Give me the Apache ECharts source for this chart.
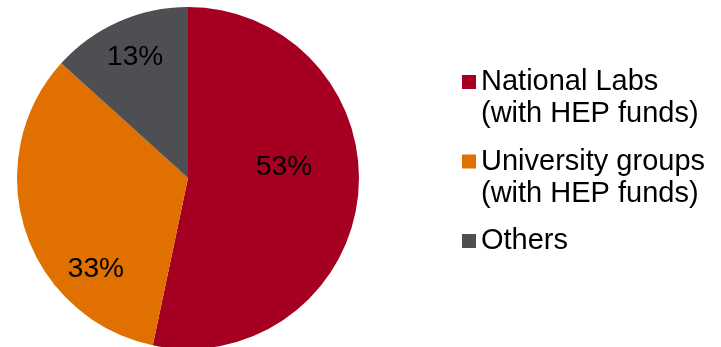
<!DOCTYPE html>
<html>
<head>
<meta charset="utf-8">
<script src="https://cdn.jsdelivr.net/npm/echarts@6/dist/echarts.min.js"></script>
<style>
html,body{margin:0;padding:0;background:#fff;}
#chart{width:721px;height:347px;}
</style>
</head>
<body>
<div id="chart"></div>
<script>
// Data
var categories = ['National Labs (with HEP funds)', 'University groups (with HEP funds)', 'Others'];
var legendLines = [['National Labs', '(with HEP funds)'], ['University groups', '(with HEP funds)'], ['Others']];
var shares = [53.3, 33.4, 13.3];
var colors = ['#A50021', '#E07000', '#4D4F53'];

var labelShift = [[8, -20], [-8, 64], [-17, -40]];

var chart = echarts.init(document.getElementById('chart'), null, {renderer: 'canvas'});

var pieData = categories.map(function (c, i) {
  return {name: c, value: shares[i], itemStyle: {color: colors[i]}};
});

var option = {
  animation: false,
  backgroundColor: '#ffffff',
  legend: {
    orient: 'vertical',
    left: 462,
    top: 34,
    padding: 0,
    itemWidth: 14,
    itemHeight: 14,
    itemGap: -16.5,
    icon: 'rect',
    selectedMode: false,
    data: categories,
    formatter: function (name) {
      var idx = categories.indexOf(name);
      var lines = legendLines[idx];
      if (lines.length === 2) return '\n' + lines[0] + '\n' + lines[1];
      return '\n' + lines[0] + '\n';
    },
    textStyle: {
      fontFamily: 'Liberation Sans, Arial, sans-serif',
      fontSize: 29,
      lineHeight: 32,
      color: '#000000'
    }
  },
  series: [{
    type: 'pie',
    center: [188, 178],
    radius: [0, 171],
    startAngle: 90,
    clockwise: true,
    silent: true,
    percentPrecision: 1,
    itemStyle: {borderWidth: 0},
    emphasis: {disabled: true},
    label: {
      show: true,
      position: 'inside',
      formatter: function (p) { return Math.round(p.percent) + '%'; },
      fontFamily: 'Liberation Sans, Arial, sans-serif',
      fontSize: 28,
      color: '#000000'
    },
    labelLine: {show: false},
    labelLayout: function (params) {
      var s = labelShift[params.dataIndex];
      return {dx: s[0], dy: s[1]};
    },
    data: pieData
  }]
};
chart.setOption(option);
</script>
</body>
</html>
